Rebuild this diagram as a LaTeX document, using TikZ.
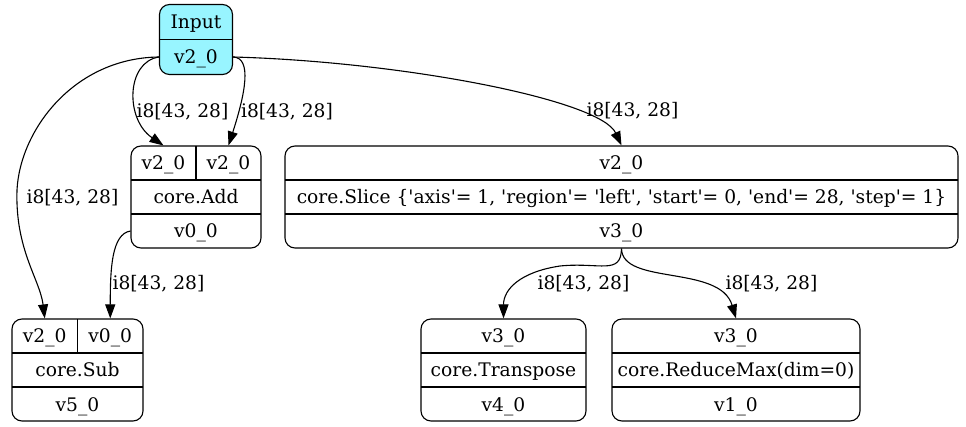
\documentclass[tikz,border=0pt]{standalone}
\usepackage{fontspec}
\setmainfont{DejaVu Serif}
\usetikzlibrary{arrows.meta}
\definecolor{inputcyan}{HTML}{98F5FF}
\newcommand{\hk}{\textquotesingle}

\begin{document}
\begin{tikzpicture}[x=1pt, y=-1pt,
	font=\fontsize{18.67}{22}\selectfont,
	rec/.style={draw=black, line width=1.1pt, rounded corners=10pt, inner sep=0pt},
	trenn/.style={line width=1.1pt},
	feld/.style={inner sep=0pt, text height=14pt, text depth=0pt},
	kante/.style={line width=1.1pt, -{Triangle[length=14pt, width=10pt]}}]
	\useasboundingbox (0,0) rectangle (966,427);

	% Eingabe
	\node[rec, fill=inputcyan, minimum width=73pt, minimum height=70pt] (inp) at (196, 39.5) {};
	\draw[trenn] (inp.west) -- (inp.east);
	\node[feld] (inpname) at (196, 22) {Input};
	\node[feld] (inpv) at (196, 57) {v2\_0};

	% core.Add
	\node[rec, minimum width=130pt, minimum height=102pt] (add) at (196, 197) {};
	\draw[trenn] (131, 180) -- (261, 180);
	\draw[trenn] (131, 214) -- (261, 214);
	\draw[trenn] (196, 146) -- (196, 180);
	\node[feld] (adda) at (163.5, 163) {v2\_0};
	\node[feld] (addb) at (228.5, 163) {v2\_0};
	\node[feld] (addop) at (196, 197) {core.Add};
	\node[feld] (addout) at (196, 231) {v0\_0};

	% core.Slice
	\node[rec, minimum width=673pt, minimum height=102pt] (slice) at (621.5, 197) {};
	\draw[trenn] (285, 180) -- (958, 180);
	\draw[trenn] (285, 214) -- (958, 214);
	\node[feld] (slicein) at (621.5, 163) {v2\_0};
	\node[feld] (sliceop) at (621.5, 197) {core.Slice \{\hk axis\hk= 1, \hk region\hk= \hk left\hk, \hk start\hk= 0, \hk end\hk= 28, \hk step\hk= 1\}};
	\node[feld] (sliceout) at (621.5, 231) {v3\_0};

	% core.Sub
	\node[rec, minimum width=131pt, minimum height=102pt] (sub) at (77.5, 370) {};
	\draw[trenn] (12, 353) -- (143, 353);
	\draw[trenn] (12, 387) -- (143, 387);
	\draw[trenn] (77.5, 319) -- (77.5, 353);
	\node[feld] (suba) at (44.75, 336) {v2\_0};
	\node[feld] (subb) at (110.25, 336) {v0\_0};
	\node[feld] (subop) at (77.5, 370) {core.Sub};
	\node[feld] (subout) at (77.5, 404) {v5\_0};

	% core.Transpose
	\node[rec, minimum width=165pt, minimum height=102pt] (trans) at (503.5, 370) {};
	\draw[trenn] (421, 353) -- (586, 353);
	\draw[trenn] (421, 387) -- (586, 387);
	\node[feld] (transin) at (503.5, 336) {v3\_0};
	\node[feld] (transop) at (503.5, 370) {core.Transpose};
	\node[feld] (transout) at (503.5, 404) {v4\_0};

	% core.ReduceMax
	\node[rec, minimum width=248pt, minimum height=102pt] (rmax) at (736, 370) {};
	\draw[trenn] (612, 353) -- (860, 353);
	\draw[trenn] (612, 387) -- (860, 387);
	\node[feld] (rmaxin) at (736, 336) {v3\_0};
	\node[feld] (rmaxop) at (736, 370) {core.ReduceMax(dim=0)};
	\node[feld] (rmaxout) at (736, 404) {v1\_0};

	% Kanten
	\draw[kante] (inp.west |- inpv) .. controls +(-33, 5) and +(-38.5, -26) .. (adda |- add.north);
	\draw[kante] (inp.east |- inpv) .. controls +(19.5, 0.5) and +(16.5, -51) .. (addb |- add.north);
	\draw[kante] (inp.west |- inpv) .. controls +(-85, 1) and +(3, -60) .. (17, 190)
		.. controls +(-2, 60) and +(-4.75, -39) .. (suba |- sub.north);
	\draw[kante] (inp.east |- inpv) .. controls +(167.5, 4.5) and +(-21.5, -46) .. (slice.north);
	\draw[kante] (add.west |- addout) .. controls +(-19, 3) and +(0, -49) .. (subb |- sub.north);
	\draw[kante] (slice.south) .. controls +(-0.5, 27) and +(40, -4) .. (560, 266)
		.. controls +(-40, 6) and +(0, -29) .. (trans.north);
	\draw[kante] (slice.south) .. controls +(0.5, 37) and +(-16, -54) .. (rmax.north);

	% Beschriftungen
	\node[feld] (l1) at (182.5, 111) {i8[43, 28]};
	\node[feld] (l2) at (287, 111) {i8[43, 28]};
	\node[feld] (l3) at (72.5, 197) {i8[43, 28]};
	\node[feld] (l4) at (632.5, 110) {i8[43, 28]};
	\node[feld] (l5) at (158.5, 283) {i8[43, 28]};
	\node[feld] (l6) at (583.5, 283) {i8[43, 28]};
	\node[feld] (l7) at (771.5, 283) {i8[43, 28]};
\end{tikzpicture}
\end{document}
